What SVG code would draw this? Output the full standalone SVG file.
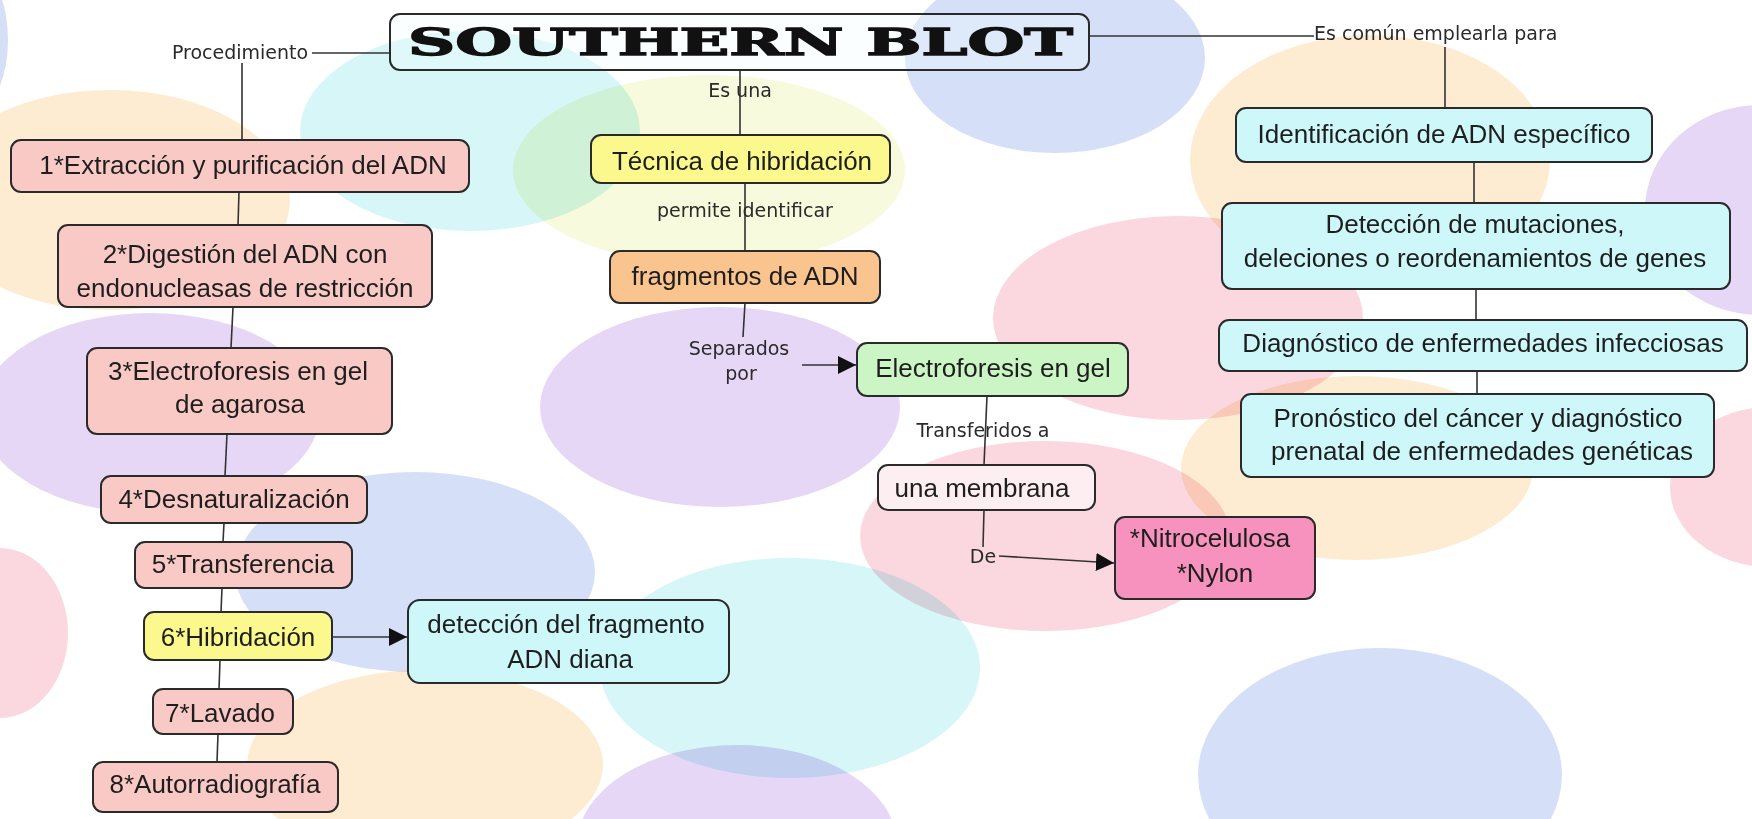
<svg xmlns="http://www.w3.org/2000/svg" width="1752" height="819" viewBox="0 0 1752 819">
<style>
.bg ellipse{mix-blend-mode:multiply;stroke:none}
.cy{fill:#d6f6f7}.bl{fill:#d5dff7}.pe{fill:#fdecd2}.ye{fill:#f7fadc}.pu{fill:#e7d7f7}.pk{fill:#fbd8df}
.box{stroke:#2a2a2a;stroke-width:2}
.t{font-family:"Liberation Sans",Arial,sans-serif;font-size:26px;fill:#1e1e1e;text-anchor:middle}
.lbl{font-family:"DejaVu Sans",Verdana,sans-serif;font-size:19px;fill:#2a2a2a;text-anchor:middle}
.c line{stroke:#333;stroke-width:1.6;fill:none}
.pink{fill:#f9c9c5}.yel{fill:#fbf88e}.cyn{fill:#cdf7f9}.org{fill:#f9c48e}.grn{fill:#cbf5c4}.wht{fill:#fdeef1}.hot{fill:#f792bf}
</style>
<defs>
<marker id="arr" markerUnits="userSpaceOnUse" markerWidth="19" markerHeight="18" refX="18" refY="9" orient="auto">
<path d="M0,0 L18,9 L0,18 z" fill="#111"/>
</marker>
</defs>
<rect x="0" y="0" width="1752" height="819" fill="#ffffff"/>
<g class="bg">
<ellipse class="bl" cx="-20" cy="40" rx="28" ry="65"/>
<ellipse class="pe" cx="110" cy="200" rx="180" ry="110"/>
<ellipse class="ye" cx="709" cy="170" rx="196" ry="95"/>
<ellipse class="cy" cx="470" cy="131" rx="170" ry="100"/>
<ellipse class="bl" cx="1055" cy="58" rx="150" ry="95"/>
<ellipse class="pu" cx="150" cy="413" rx="170" ry="100"/>
<ellipse class="pu" cx="720" cy="407" rx="180" ry="100"/>
<ellipse class="pe" cx="1370" cy="160" rx="180" ry="125"/>
<ellipse class="pk" cx="1178" cy="318" rx="185" ry="102"/>
<ellipse class="pu" cx="1760" cy="210" rx="115" ry="105"/>
<ellipse class="pe" cx="1357" cy="468" rx="176" ry="92"/>
<ellipse class="pk" cx="1770" cy="487" rx="100" ry="80"/>
<ellipse class="bl" cx="1380" cy="775" rx="182" ry="127"/>
<ellipse class="pk" cx="1045" cy="536" rx="185" ry="95"/>
<ellipse class="bl" cx="415" cy="572" rx="180" ry="100"/>
<ellipse class="pk" cx="0" cy="633" rx="68" ry="85"/>
<ellipse class="cy" cx="790" cy="668" rx="190" ry="110"/>
<ellipse class="pe" cx="425" cy="765" rx="178" ry="95"/>
<ellipse class="pu" cx="737" cy="845" rx="160" ry="100"/>
</g>
<g id="connectors" class="c">
<line x1="312" y1="53" x2="390" y2="53"/>
<line x1="242" y1="63" x2="242" y2="140"/>
<line x1="239" y1="192" x2="238" y2="225"/>
<line x1="233" y1="307" x2="231" y2="348"/>
<line x1="227" y1="434" x2="225" y2="476"/>
<line x1="224" y1="523" x2="223" y2="542"/>
<line x1="222" y1="588" x2="221" y2="612"/>
<line x1="220" y1="660" x2="219" y2="689"/>
<line x1="218" y1="734" x2="217" y2="762"/>
<line x1="332" y1="637" x2="407" y2="637" marker-end="url(#arr)"/>
<line x1="740" y1="70" x2="740" y2="135"/>
<line x1="745" y1="183" x2="745" y2="251"/>
<line x1="745" y1="303" x2="743" y2="337"/>
<line x1="802" y1="365" x2="856" y2="365" marker-end="url(#arr)"/>
<line x1="987" y1="396" x2="984" y2="465"/>
<line x1="984" y1="510" x2="983" y2="547"/>
<line x1="999" y1="556" x2="1114" y2="563" marker-end="url(#arr)"/>
<line x1="1089" y1="36" x2="1314" y2="36"/>
<line x1="1445" y1="47" x2="1445" y2="108"/>
<line x1="1474" y1="162" x2="1474" y2="203"/>
<line x1="1476" y1="289" x2="1476" y2="320"/>
<line x1="1477" y1="371" x2="1477" y2="394"/>
</g>
<g id="labels">
<text class="lbl" x="240" y="59">Procedimiento</text>
<text class="lbl" x="740" y="97">Es una</text>
<text class="lbl" x="745" y="217">permite identificar</text>
<text class="lbl" x="739" y="355">Separados</text>
<text class="lbl" x="741" y="380">por</text>
<text class="lbl" x="983" y="437">Transferidos a</text>
<text class="lbl" x="983" y="563">De</text>
<text class="lbl" x="1314" y="40" style="text-anchor:start">Es común emplearla para</text>
</g>
<g id="title">
<rect class="box" x="390" y="14" width="699" height="56" rx="10" fill="#f2fdfd" fill-opacity="0.35"/>
<text x="408" y="55" textLength="665" lengthAdjust="spacingAndGlyphs" style="font-family:'DejaVu Serif',serif;font-weight:bold;font-size:38px;fill:#111;stroke:#111;stroke-width:1.4">SOUTHERN BLOT</text>
</g>
<g id="n1"><rect class="box pink" x="11" y="140" width="458" height="52" rx="10"/><text class="t" x="243" y="174">1*Extracción y purificación del ADN</text></g>
<g id="n2"><rect class="box pink" x="58" y="225" width="374" height="82" rx="10"/><text class="t" x="245" y="263">2*Digestión del ADN con</text><text class="t" x="245" y="297">endonucleasas de restricción</text></g>
<g id="n3"><rect class="box pink" x="87" y="348" width="305" height="86" rx="10"/><text class="t" x="238" y="380">3*Electroforesis en gel</text><text class="t" x="240" y="413">de agarosa</text></g>
<g id="n4"><rect class="box pink" x="101" y="476" width="266" height="47" rx="10"/><text class="t" x="234" y="508">4*Desnaturalización</text></g>
<g id="n5"><rect class="box pink" x="135" y="542" width="217" height="46" rx="10"/><text class="t" x="243" y="573">5*Transferencia</text></g>
<g id="n6"><rect class="box yel" x="144" y="612" width="188" height="48" rx="10"/><text class="t" x="238" y="646">6*Hibridación</text></g>
<g id="n7"><rect class="box pink" x="153" y="689" width="140" height="45" rx="10"/><text class="t" x="220" y="722">7*Lavado</text></g>
<g id="n8"><rect class="box pink" x="93" y="762" width="245" height="50" rx="10"/><text class="t" x="215" y="793">8*Autorradiografía</text></g>
<g id="deteccion"><rect class="box cyn" x="408" y="600" width="321" height="83" rx="12"/><text class="t" x="566" y="633">detección del fragmento</text><text class="t" x="570" y="668">ADN diana</text></g>
<g id="tecnica"><rect class="box yel" x="591" y="135" width="299" height="48" rx="10"/><text class="t" x="742" y="170">Técnica de hibridación</text></g>
<g id="fragmentos"><rect class="box org" x="610" y="251" width="270" height="52" rx="10"/><text class="t" x="745" y="285">fragmentos de ADN</text></g>
<g id="electroforesis"><rect class="box grn" x="857" y="343" width="271" height="53" rx="10"/><text class="t" x="993" y="377">Electroforesis en gel</text></g>
<g id="membrana"><rect class="box wht" x="878" y="465" width="217" height="45" rx="10"/><text class="t" x="982" y="497">una membrana</text></g>
<g id="nitro"><rect class="box hot" x="1115" y="517" width="200" height="82" rx="10"/><text class="t" x="1210" y="547">*Nitrocelulosa</text><text class="t" x="1215" y="582">*Nylon</text></g>
<g id="identificacion"><rect class="box cyn" x="1236" y="108" width="416" height="54" rx="10"/><text class="t" x="1444" y="143">Identificación de ADN específico</text></g>
<g id="mutaciones"><rect class="box cyn" x="1222" y="203" width="508" height="86" rx="10"/><text class="t" x="1475" y="233">Detección de mutaciones,</text><text class="t" x="1475" y="267">deleciones o reordenamientos de genes</text></g>
<g id="infecciosas"><rect class="box cyn" x="1219" y="320" width="528" height="51" rx="10"/><text class="t" x="1483" y="352">Diagnóstico de enfermedades infecciosas</text></g>
<g id="pronostico"><rect class="box cyn" x="1241" y="394" width="473" height="83" rx="10"/><text class="t" x="1478" y="427">Pronóstico del cáncer y diagnóstico</text><text class="t" x="1482" y="460">prenatal de enfermedades genéticas</text></g>
</svg>
